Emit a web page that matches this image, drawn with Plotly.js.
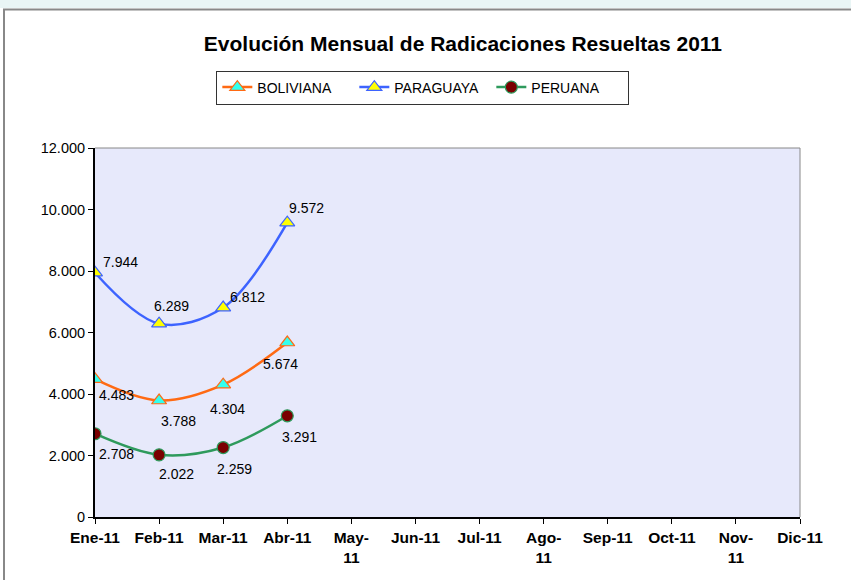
<!DOCTYPE html>
<html>
<head>
<meta charset="utf-8">
<script src="https://cdn.plot.ly/plotly-3.0.1.min.js"></script>
<style>html,body{margin:0;padding:0;background:#fff;}#chart{width:851px;height:580px;}</style>
</head>
<body>
<div id="chart"></div>
<script>
const months = ["Ene-11","Feb-11","Mar-11","Abr-11","May-11","Jun-11","Jul-11","Ago-11","Sep-11","Oct-11","Nov-11","Dic-11"];
const monthLabels = ["Ene-11","Feb-11","Mar-11","Abr-11","May-<br>11","Jun-11","Jul-11","Ago-<br>11","Sep-11","Oct-11","Nov-<br>11","Dic-11"];
const boliviana = [4483, 3788, 4304, 5674];
const paraguaya = [7944, 6289, 6812, 9572];
const peruana = [2708, 2022, 2259, 3291];

// label offsets (pixels) per series, layout only
const offB = [[21,16],[19,20],[4,24],[-7,21]];
const offP = [[25,-11],[12,-18],[24,-11],[19,-15]];
const offR = [[21,20],[17,19],[11,21],[12,21]];

function fmt(v){ return String(v).replace(/\B(?=(\d{3})+(?!\d))/g, "."); }

const xs = months.slice(0, 4);
const FONT = "Liberation Sans, Arial, sans-serif";

const traces = [
  {name:"BOLIVIANA", x:xs, y:boliviana, type:"scatter", mode:"lines+markers",
   line:{color:"#ff6a13", width:2.5, shape:"spline", smoothing:1},
   marker:{symbol:"triangle-up", size:13, color:"#33ffee", line:{color:"#ff6a13", width:1.2}}},
  {name:"PARAGUAYA", x:xs, y:paraguaya, type:"scatter", mode:"lines+markers",
   line:{color:"#3d63ff", width:2.5, shape:"spline", smoothing:1},
   marker:{symbol:"triangle-up", size:13, color:"#ffff00", line:{color:"#3d63ff", width:1.2}}},
  {name:"PERUANA", x:xs, y:peruana, type:"scatter", mode:"lines+markers",
   line:{color:"#2e9a5c", width:2.5, shape:"spline", smoothing:1},
   marker:{symbol:"circle", size:12, color:"#7a0000", line:{color:"#2e9a5c", width:1.2}}}
];

const annotations = [];
function addLabels(vals, offs){
  vals.forEach((v,i)=>{
    annotations.push({x:xs[i], y:v, xref:"x", yref:"y", text:fmt(v), showarrow:false,
      xshift:offs[i][0], yshift:-offs[i][1], font:{family:FONT, size:14, color:"#000"}});
  });
}
addLabels(boliviana, offB);
addLabels(paraguaya, offP);
addLabels(peruana, offR);

const layout = {
  width:851, height:580,
  margin:{l:95, r:51, t:148, b:63},
  paper_bgcolor:"#ffffff",
  plot_bgcolor:"#e7e9fb",
  separators:",.",
  font:{family:FONT, color:"#000"},
  title:{text:"<b>Evolución Mensual de Radicaciones Resueltas 2011</b>", xref:"container", yref:"container",
    x:0.544, xanchor:"center", y:0.924, yanchor:"middle",
    font:{family:FONT, size:21, color:"#000"}},
  showlegend:true,
  legend:{orientation:"h", xref:"paper", yref:"paper", x:0.465, xanchor:"center", y:1.21, yanchor:"top",
    bordercolor:"#333", borderwidth:1, bgcolor:"#fff", entrywidth:92, entrywidthmode:"pixels",
    font:{family:FONT, size:14, color:"#000"}, tracegroupgap:0},
  xaxis:{type:"category", categoryorder:"array", categoryarray:months, range:[0,11],
    tickvals:months, ticktext:monthLabels.map(t=>"<b>"+t+"</b>"),
    showgrid:false, zeroline:false, showline:true, linecolor:"#000", linewidth:2,
    ticks:"outside", ticklen:5, tickcolor:"#000", tickwidth:1,
    tickfont:{family:FONT, size:15.5, color:"#000"}, tickangle:0},
  yaxis:{range:[0,12000], dtick:2000, tickformat:",d", showgrid:false, zeroline:false,
    showline:true, linecolor:"#000", linewidth:2, ticks:"outside", ticklen:5, tickcolor:"#000",
    tickfont:{family:FONT, size:14.5, color:"#000"}},
  annotations:annotations
};

// outer frame and top strip in pixel space via paper coords
const pw = 851-95-51, ph = 580-148-63;
function px(x){ return (x-95)/pw; }
function py(y){ return (580-63-y)/ph; }
layout.shapes = [
  {type:"rect", xref:"paper", yref:"paper", x0:px(0), x1:px(851), y0:py(0), y1:py(8), fillcolor:"#e9f5f5", line:{width:0}, layer:"below"},
  {type:"line", xref:"paper", yref:"paper", x0:px(3), x1:px(851), y0:py(9.5), y1:py(9.5), line:{color:"#888", width:2}},
  {type:"line", xref:"paper", yref:"paper", x0:px(4), x1:px(4), y0:py(9.5), y1:py(580), line:{color:"#888", width:2}},
  {type:"line", xref:"paper", yref:"paper", x0:0, x1:1, y0:1, y1:1, line:{color:"#888", width:1}},
  {type:"line", xref:"paper", yref:"paper", x0:1, x1:1, y0:0, y1:1, line:{color:"#888", width:1}}
];

Plotly.newPlot("chart", traces, layout, {displayModeBar:false, staticPlot:true});
</script>
</body>
</html>
